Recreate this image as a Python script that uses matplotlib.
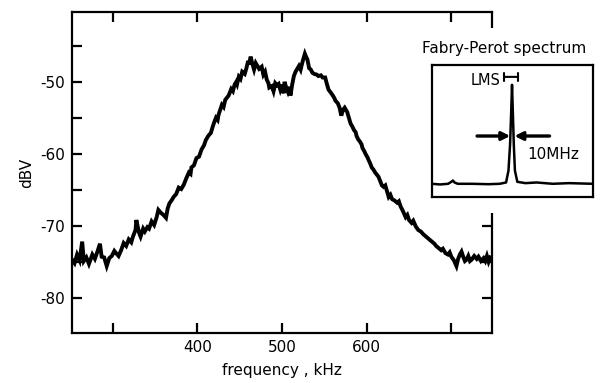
import matplotlib
matplotlib.use("Agg")
import matplotlib.pyplot as plt
from matplotlib.patches import Rectangle

# ---- main spectrum (frequency in kHz, level in dBV) ----
freq_khz = [252, 255, 258, 261, 264, 266, 269, 272, 276, 279, 282, 285, 287, 290, 293, 296, 299,
            302, 304, 307, 310, 313, 316, 319, 322, 324, 327, 328, 331, 333, 336, 338, 341, 343,
            346, 349, 352, 354, 357, 360, 363, 365, 367, 370, 372, 375, 378, 381, 384, 387, 390,
            392, 393, 396, 399, 402, 405, 408, 410, 413, 416, 418, 420, 422, 424, 425, 427, 429,
            431, 433, 435, 437, 440, 442, 444, 446, 447, 449, 451, 453, 456, 458, 460, 461, 463,
            465, 467, 469, 471, 473, 476, 478, 480, 482, 484, 485, 488, 490, 492, 494, 496, 498,
            500, 502, 503, 505, 507, 509, 510, 512, 514, 516, 518, 520, 522, 523, 525, 527, 528,
            530, 532, 534, 536, 538, 541, 543, 546, 548, 551, 553, 555, 557, 560, 562, 563, 566,
            568, 570, 572, 574, 576, 577, 579, 581, 583, 585, 587, 588, 590, 592, 594, 595, 597,
            599, 601, 602, 604, 606, 608, 610, 612, 614, 616, 618, 620, 622, 624, 626, 628, 630,
            633, 636, 638, 640, 643, 646, 648, 650, 653, 655, 658, 661, 664, 667, 670, 673, 677,
            680, 682, 685, 688, 690, 693, 696, 698, 700, 703, 706, 708, 710, 712, 714, 716, 718,
            720, 722, 724, 727, 730, 732, 735, 738, 740, 742, 744, 746]
level_dbv = [-74.7, -75.2, -74.0, -74.8, -72.2, -74.9, -74.4, -75.3, -74.0, -74.6, -73.6, -72.5,
             -74.3, -74.4, -75.6, -74.5, -74.2, -73.5, -73.8, -74.2, -73.4, -72.4, -72.8, -71.9,
             -72.3, -71.5, -70.6, -69.2, -70.9, -71.5, -70.4, -70.8, -70.2, -70.4, -69.4, -69.9,
             -68.8, -67.8, -68.2, -68.5, -68.9, -67.6, -66.9, -66.4, -66.0, -65.6, -64.7, -64.9,
             -64.3, -63.4, -62.6, -62.8, -61.9, -61.6, -60.6, -60.4, -59.4, -58.8, -58.1, -57.5,
             -57.1, -56.3, -55.6, -55.0, -55.3, -54.6, -53.9, -53.2, -53.5, -52.5, -52.2, -51.9,
             -51.0, -51.3, -50.4, -50.0, -50.3, -49.3, -49.6, -48.6, -48.9, -48.1, -47.1, -47.6,
             -46.5, -47.5, -48.3, -47.4, -47.8, -48.2, -47.9, -49.0, -48.6, -49.7, -50.2, -50.8,
             -50.6, -51.3, -50.2, -50.5, -50.3, -51.1, -50.4, -51.6, -50.0, -50.8, -51.4, -50.7,
             -51.9, -50.4, -49.2, -48.6, -48.2, -47.8, -48.3, -47.8, -46.9, -46.1, -46.4, -46.9,
             -48.1, -48.3, -48.75, -48.9, -49.0, -49.2, -49.1, -49.4, -49.4, -50.3, -51.1, -51.4,
             -51.9, -52.3, -52.6, -53.0, -53.6, -54.7, -53.9, -53.6, -54.0, -54.2, -55.0, -55.8,
             -56.2, -56.7, -57.0, -57.5, -58.0, -58.3, -58.7, -59.2, -59.6, -60.1, -60.5, -60.8,
             -61.3, -61.9, -62.2, -62.6, -62.9, -63.2, -63.8, -64.4, -64.6, -64.4, -65.2, -66.0,
             -65.7, -66.3, -66.5, -66.8, -66.6, -67.3, -68.0, -68.8, -68.5, -69.2, -69.6, -69.3,
             -70.1, -70.6, -70.8, -71.2, -71.5, -71.8, -72.2, -72.5, -72.8, -73.1, -73.4, -73.2,
             -73.8, -74.0, -73.7, -74.3, -74.8, -75.6, -74.6, -74.0, -73.6, -74.3, -74.9, -74.7,
             -74.2, -74.9, -74.7, -74.2, -74.6, -74.3, -74.9, -74.5, -74.9, -74.2, -75.0, -74.4]

x_ticks = [300, 400, 500, 600, 700]
x_tick_labels = ["", "400", "500", "600", ""]
y_ticks = [-80, -75, -70, -65, -60, -55, -50, -45]
y_tick_labels = ["-80", "", "-70", "", "-60", "", "-50", ""]

# ---- inset: Fabry-Perot spectrum (arbitrary units) ----
fp_x = [0, 5, 10, 12, 13, 14, 16, 25, 35, 42, 46, 47.5, 48.5, 49.2, 49.7, 50.2, 50.8, 51.5,
        53, 58, 65, 75, 85, 100]
fp_y = [0.10, 0.095, 0.10, 0.115, 0.125, 0.11, 0.10, 0.10, 0.097, 0.10, 0.11, 0.2, 0.4, 0.65,
        0.85, 0.65, 0.4, 0.2, 0.115, 0.105, 0.11, 0.10, 0.105, 0.10]

plt.rcParams['font.family'] = ['DejaVu Sans']
fig = plt.figure(figsize=(6.15, 3.83), dpi=100)
ax = fig.add_axes([72/615, 1-333/383, 420/615, 321/383])
ax.plot(freq_khz, level_dbv, color='black', lw=2.8, solid_joinstyle='miter')
ax.set_xlim(252, 748)
ax.set_ylim(-84.9, -40.3)
ax.set_xticks(x_ticks)
ax.set_xticklabels(x_tick_labels)
ax.set_yticks(y_ticks)
ax.set_yticklabels(y_tick_labels)
ax.tick_params(direction='in', length=7, width=1.6, top=True, right=True,
               labelsize=11, pad=5)
for s in ax.spines.values():
    s.set_linewidth(1.6)
ax.set_xlabel("frequency , kHz", fontsize=11, labelpad=6)
ax.set_ylabel("dBV", fontsize=11, labelpad=4)

# white gap in main right spine behind the inset
fig.patches.append(Rectangle((484/615, 1-213/383), 14/615, 185/383,
                             transform=fig.transFigure, facecolor='white',
                             edgecolor='none', zorder=1))

ins = fig.add_axes([432/615, 1-197/383, 161/615, 132/383], zorder=2)
ins.set_facecolor('white')
ins.plot(fp_x, fp_y, color='black', lw=1.8)
ins.set_xlim(0, 100)
ins.set_ylim(0, 1)
ins.set_xticks([])
ins.set_yticks([])
for s in ins.spines.values():
    s.set_linewidth(1.6)

ins.annotate("", xy=(48.6, 0.462), xytext=(28, 0.462),
             arrowprops=dict(arrowstyle='-|>', lw=2.4, color='black',
                             mutation_scale=12, shrinkA=0, shrinkB=0))
ins.annotate("", xy=(51.2, 0.462), xytext=(73, 0.462),
             arrowprops=dict(arrowstyle='-|>', lw=2.4, color='black',
                             mutation_scale=12, shrinkA=0, shrinkB=0))
ins.text(59.5, 0.32, "10MHz", fontsize=11, ha='left', va='center')
ins.text(42.5, 0.885, "LMS", fontsize=10.5, ha='right', va='center')
ins.annotate("", xy=(53.5, 0.91), xytext=(44.7, 0.91),
             arrowprops=dict(arrowstyle='|-|', lw=1.5, color='black',
                             mutation_scale=3, shrinkA=0, shrinkB=0))

fig.text(504/615, 1-48/383, "Fabry-Perot spectrum", fontsize=11, ha='center',
         va='center', zorder=3,
         bbox=dict(facecolor='white', edgecolor='none', pad=1))

fig.savefig("out.png", dpi=100)
